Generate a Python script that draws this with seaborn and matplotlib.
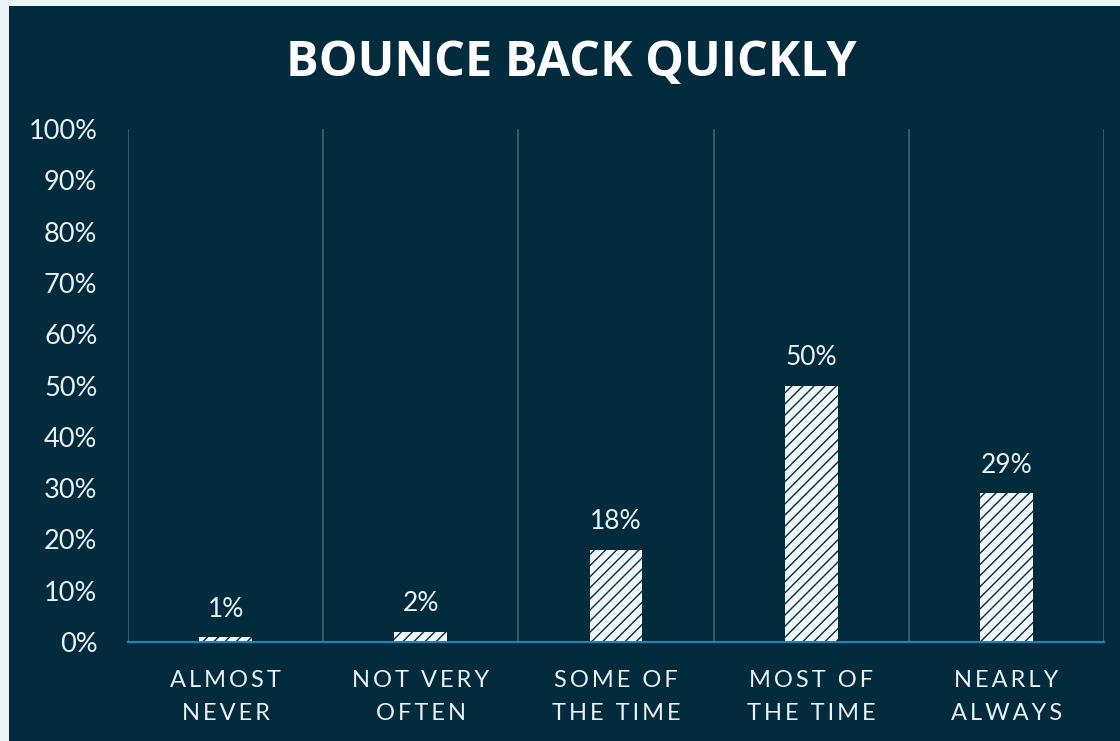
import matplotlib
matplotlib.use("Agg")
import matplotlib.pyplot as plt
import seaborn as sns
import pandas as pd
from matplotlib.patches import Rectangle
from matplotlib.ticker import FixedLocator, PercentFormatter

categories = ["ALMOST\nNEVER", "NOT VERY\nOFTEN", "SOME OF\nTHE TIME", "MOST OF\nTHE TIME", "NEARLY\nALWAYS"]
values = [1, 2, 18, 50, 29]
value_labels = ["1%", "2%", "18%", "50%", "29%"]
title = "BOUNCE BACK QUICKLY"

NAVY = "#032B3E"
LIGHT = "#E8F1F4"
PAGE = "#EAF3F6"


def spaced(label):
    # emulate the letter spacing of the category labels
    return "\n".join("\u2009".join(list(line)) for line in label.split("\n"))


sns.set_theme(style="white")
plt.rcParams["font.family"] = ["Lato", "DejaVu Sans"]
plt.rcParams["hatch.linewidth"] = 1.0

fig = plt.figure(figsize=(11.2, 7.41), dpi=100, facecolor=PAGE)
fig.patches.append(Rectangle((9 / 1120, 0), 1 - 9 / 1120, (741 - 6) / 741,
                             transform=fig.transFigure, facecolor=NAVY,
                             edgecolor="none", zorder=-10))

ax = fig.add_axes([128 / 1120, (741 - 642) / 741, (1104 - 128) / 1120, (642 - 129) / 741])
ax.set_facecolor(NAVY)

df = pd.DataFrame({"cat": categories, "val": [v / 100 for v in values]})
sns.barplot(data=df, x="cat", y="val", ax=ax, width=0.27, color="#F2F8FA",
            edgecolor=NAVY, linewidth=0, saturation=1)
for p in ax.patches:
    p.set_hatch("///")
    p.set_edgecolor(NAVY)
    p.set_linewidth(0)
    p.set_zorder(3)

ax.bar_label(ax.containers[0], labels=value_labels, padding=11, color=LIGHT,
             fontsize=19, family=["Lato", "DejaVu Sans"])

ax.set_xlim(-0.5, len(categories) - 0.5)
ax.set_ylim(0, 1)
ax.yaxis.set_major_locator(FixedLocator([i / 10 for i in range(11)]))
ax.yaxis.set_major_formatter(PercentFormatter(1.0, decimals=0))
ax.xaxis.set_minor_locator(FixedLocator([i - 0.5 for i in range(len(categories) + 1)]))

ax.grid(False)
ax.grid(True, which="minor", axis="x", color="#3E6272", linewidth=1.2)
for s in ["top", "right", "left"]:
    ax.spines[s].set_visible(False)
ax.spines["bottom"].set_color("#1D86B6")
ax.spines["bottom"].set_linewidth(1.5)
ax.spines["bottom"].set_zorder(4)

ax.tick_params(axis="y", which="both", length=0, pad=22, labelsize=19.5, labelcolor=LIGHT)
ax.tick_params(axis="x", which="both", length=0, pad=20, labelsize=17, labelcolor=LIGHT)
ax.set_xticks(range(len(categories)))
ax.set_xticklabels([spaced(c) for c in categories], linespacing=1.7)
for t in ax.get_xticklabels():
    t.set_fontproperties(matplotlib.font_manager.FontProperties(family=["Lato", "DejaVu Sans"], size=17))
    t.set_color(LIGHT)
ax.set_xlabel("")
ax.set_ylabel("")

fig.text(571 / 1120, 1 - 64 / 741, title, ha="center", va="center", color="white",
         fontsize=35, fontweight="bold", family=["Open Sans", "DejaVu Sans"])

fig.savefig("out.png", dpi=100, facecolor=PAGE)
